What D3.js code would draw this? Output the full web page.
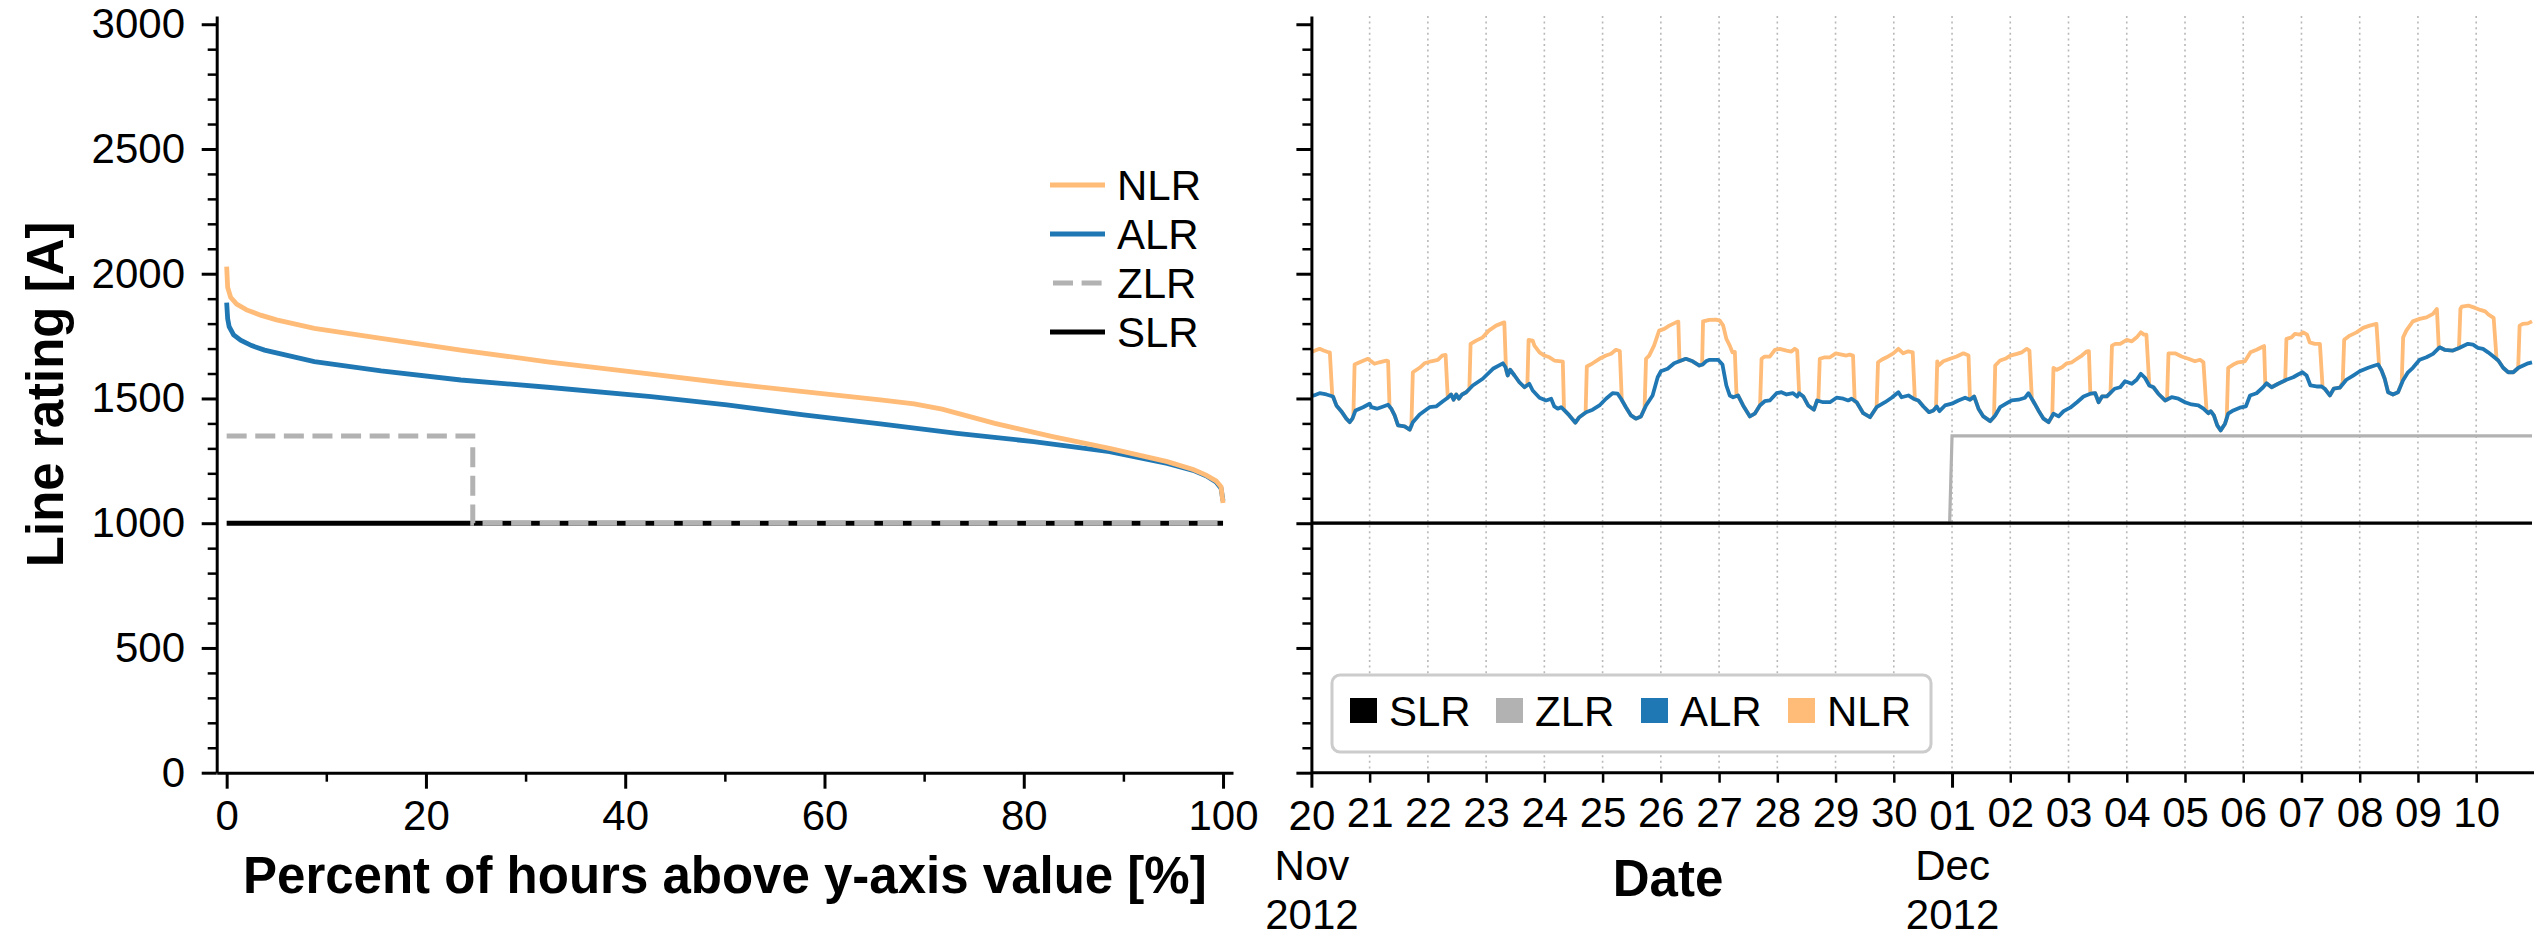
<!DOCTYPE html>
<html>
<head>
<meta charset="utf-8">
<script src="https://cdn.jsdelivr.net/npm/d3@7"></script>
<style>
  body { margin: 0; background: #fff; }
  svg text { font-family: "Liberation Sans", Arial, Helvetica, sans-serif; fill: #000; }
</style>
</head>
<body>
<svg id="chart" width="2534" height="937"></svg>
<script>
// ---------- data ----------
const ratingMajorTicks = [0, 500, 1000, 1500, 2000, 2500, 3000];
const ratingMinorTicks = d3.range(0, 3001, 100).filter(v => v % 500 !== 0);
const pctMajorTicks = [0, 20, 40, 60, 80, 100];
const pctMinorTicks = [10, 30, 50, 70, 90];

// Duration curves: [percent of hours above value, rating in A]
const nlrDuration = [[0,2028],[0.1,1945],[0.4,1905],[1,1878],[2,1855],[3.4,1834],[5,1815],[8.8,1781],
  [15.5,1741],[23.5,1694],[32.2,1647],[42.6,1598],[50.2,1561],[57.9,1527],[65.6,1494],[69,1478],
  [71.8,1457],[77.1,1400],[82.9,1347],[88.6,1300],[94.4,1247],[97,1215],[98.3,1193],[99.3,1170],
  [99.8,1146],[100,1081]];
const alrDuration = [[0,1884],[0.1,1820],[0.25,1788],[0.7,1755],[1.4,1734],[2.5,1712],[3.8,1694],
  [8.8,1648],[15.5,1611],[23.5,1574],[32.2,1545],[42.6,1507],[50.2,1474],[57.9,1434],[65.6,1398],
  [73.3,1360],[81,1327],[88.6,1287],[94.4,1240],[97,1212],[98.3,1190],[99.3,1165],[99.8,1140],[100,1090]];
const zlrDuration = [[0,1350],[24.7,1000],[100,1000]];
const slrDuration = [[0,1000],[100,1000]];

// Hourly time series from 20 Nov 2012 00:00: [hours since start, rating in A]
const seriesStart = new Date(2012, 10, 20, 0, 0, 0);
const seriesEnd = new Date(2012, 11, 10, 23, 0, 0);
const slrSeries = [[0,1000],[503,1000]];
const zlrSeries = [[0,1000],[263,1000],[264,1350],[503,1350]];
const alrSeries = [[0,1510],[1,1512],[3.4,1521],[6.2,1516],[8.9,1508],[10.3,1472],[12.3,1449],[14.4,1419],
  [15.8,1405],[16.9,1419],[18.2,1452],[21.3,1465],[24,1479],[24.7,1465],[27,1459],[28.8,1465],[31.6,1475],
  [32.9,1459],[34.3,1432],[35.7,1392],[38.4,1388],[40.5,1375],[41.8,1405],[44.6,1436],[48.7,1465],
  [51.4,1468],[54.2,1489],[56.2,1503],[57.6,1516],[58.6,1495],[59.7,1516],[60.8,1499],[62.1,1516],
  [63.8,1525],[66.5,1552],[70.6,1579],[74.8,1619],[78.9,1641],[80,1625],[80.9,1592],[81.9,1615],
  [83.7,1592],[85.7,1565],[87.8,1545],[89.8,1559],[91.2,1532],[94,1503],[96.7,1492],[98.8,1499],
  [100.1,1468],[101.5,1459],[102.9,1465],[104.3,1452],[106.3,1432],[108.8,1403],[110.4,1425],[113.2,1445],
  [115.9,1455],[118.7,1472],[121.4,1499],[124.1,1521],[126.2,1519],[127.6,1499],[129.6,1465],[131.7,1432],
  [133.7,1419],[135.8,1428],[137.9,1472],[140.6,1512],[142.7,1585],[144,1609],[146.8,1619],[149.5,1641],
  [151.6,1649],[154.3,1659],[157.1,1649],[159.9,1632],[161.2,1636],[162.6,1649],[164.1,1655],[167.6,1655],
  [169.4,1636],[171,1552],[172.4,1512],[173.8,1505],[175.8,1512],[177.9,1472],[180.7,1428],[182.7,1439],
  [184.8,1472],[186.8,1489],[188.9,1492],[191.7,1521],[193.7,1525],[195.8,1516],[198.5,1521],[200.2,1508],
  [201,1521],[202.7,1508],[204.7,1472],[207.1,1455],[208.4,1492],[210.9,1485],[213.7,1485],[216.4,1503],
  [219.2,1499],[221.2,1492],[222.6,1499],[224.7,1485],[227.4,1441],[230.2,1425],[232.9,1465],[236.4,1485],
  [239.1,1503],[241.9,1525],[243.2,1505],[246,1512],[248.1,1499],[250.1,1492],[252.2,1468],[254.5,1445],
  [256.3,1452],[257.7,1468],[258.8,1449],[261.1,1472],[263.9,1479],[266.6,1492],[269.4,1503],[271.4,1495],
  [273.1,1508],[274.9,1459],[276.9,1428],[279.7,1409],[281.8,1432],[283.8,1465],[286.6,1481],[288.6,1492],
  [291.4,1495],[294.1,1503],[295.5,1521],[297.3,1492],[299.6,1452],[301.7,1419],[303.8,1405],[305.8,1439],
  [307.9,1428],[310,1449],[312.7,1463],[315.5,1485],[318.2,1508],[321,1519],[323,1521],[324.4,1485],
  [325.8,1508],[327.8,1508],[331,1539],[333.3,1545],[335.3,1569],[338.1,1559],[340.1,1575],[341.8,1599],
  [343.5,1583],[345.3,1552],[347,1545],[349,1519],[351.8,1492],[354.5,1505],[357.3,1499],[360,1485],
  [362.7,1476],[365.5,1472],[367.6,1459],[369.6,1441],[370.6,1449],[371.9,1432],[373.3,1392],[374.7,1372],
  [376.5,1399],[377.8,1439],[379.9,1452],[382.6,1463],[385.1,1468],[386.8,1512],[389.5,1521],[392.2,1545],
  [393.6,1561],[395.7,1545],[398.4,1559],[401.8,1575],[404.6,1585],[406.6,1596],[408.4,1605],[410.1,1592],
  [411.7,1552],[414.2,1548],[416.3,1548],[417.6,1539],[419.7,1512],[421.3,1539],[423.8,1543],[426.5,1575],
  [429.3,1592],[432,1609],[435.5,1623],[438.2,1632],[439.6,1636],[441,1612],[442.3,1579],[443.7,1525],
  [445.7,1516],[447.8,1525],[449.8,1572],[451.9,1605],[453.9,1623],[456.7,1655],[459.5,1665],[462.2,1679],
  [464.9,1705],[467,1695],[470.4,1692],[473.2,1703],[476.6,1719],[478.7,1716],[480.7,1703],[482.8,1699],
  [484.9,1685],[487.1,1668],[489.1,1652],[491.1,1623],[493.2,1605],[495.3,1605],[497.4,1623],[499.4,1632],
  [501.4,1641],[503,1645]];
// NLR periods where the rating lifts above ALR (outside them NLR equals ALR)
const nlrPulses = [
  [[0,1685],[1,1690],[3.4,1699],[5,1692],[7,1685],[7.6,1685],[8.6,1510]],
  [[17.3,1430],[17.8,1636],[19.9,1645],[23.3,1659],[24.2,1652],[26,1639],[28,1645],[30.9,1652],[31.6,1650],[32.2,1467]],
  [[41.2,1390],[41.8,1605],[44.6,1623],[46.6,1641],[49.4,1649],[52.1,1655],[53.9,1672],[55.3,1675],[56.2,1503]],
  [[65.1,1540],[65.6,1719],[67.9,1732],[70.6,1745],[73.1,1772],[76.1,1792],[78.9,1803],[79.5,1805],[80.2,1615]],
  [[89,1555],[89.5,1735],[91.2,1732],[91.9,1712],[94,1685],[96,1672],[98.1,1665],[100.1,1652],[102.9,1649],[103.6,1648],[104.1,1455]],
  [[113,1444],[113.5,1628],[115.9,1641],[118.7,1659],[121.4,1672],[123.5,1679],[125.5,1695],[127.1,1690],[127.9,1495]],
  [[137.3,1462],[137.9,1659],[139.2,1672],[141.2,1712],[143.3,1772],[145.4,1779],[147.5,1792],[150.3,1805],[151.2,1808],[151.7,1649]],
  [[161,1635],[161.4,1809],[164,1815],[166.7,1816],[168.3,1812],[169.7,1792],[171,1739],[172.4,1712],[173.5,1685],[174.5,1687],[175.2,1510]],
  [[184.9,1474],[185.5,1659],[186.8,1668],[188.9,1668],[191,1695],[193,1699],[195.8,1692],[197.8,1688],[199.2,1699],[200.2,1692],[201,1521]],
  [[208.9,1490],[209.5,1659],[211.6,1665],[213.7,1665],[216.1,1681],[218.5,1676],[220.5,1672],[221.8,1676],[223.2,1672],[223.9,1488]],
  [[232.9,1465],[233.5,1645],[235,1655],[237,1665],[239.8,1681],[241.9,1699],[243.9,1681],[246,1689],[247.8,1685],[248.7,1496]],
  [[257.4,1462],[257.9,1649],[258.4,1632],[260.4,1649],[263.2,1659],[265.9,1668],[268.7,1681],[270.8,1672],[271.4,1495]],
  [[281.3,1425],[281.8,1632],[283.8,1652],[285.9,1659],[288,1672],[290.7,1679],[292.8,1685],[294.8,1699],[295.9,1692],[296.9,1498]],
  [[305.3,1430],[305.8,1623],[307.2,1615],[309.3,1625],[311.3,1641],[313.4,1645],[315.5,1659],[317.5,1672],[319.6,1689],[320.4,1690],[321,1519]],
  [[329.3,1522],[329.9,1712],[331.3,1719],[333.3,1719],[336,1735],[338.1,1729],[340.1,1745],[341.8,1765],[343.1,1756],[344.1,1756],[345.3,1552]],
  [[352.6,1495],[353.2,1681],[355.9,1681],[358.6,1668],[361.4,1659],[364.1,1649],[366.2,1655],[367.6,1645],[368.9,1447]],
  [[377.2,1420],[377.8,1623],[379.9,1636],[381.9,1645],[384.7,1649],[387,1685],[389.5,1695],[392.2,1708],[392.6,1710],[393.1,1555]],
  [[401.3,1572],[401.8,1739],[403.9,1745],[405.3,1759],[407.3,1756],[408.7,1765],[410.3,1756],[411.4,1725],[413.5,1719],[415.6,1719],[416.7,1545]],
  [[425,1565],[425.6,1735],[427.9,1752],[430.7,1765],[433.4,1783],[436.1,1792],[438.9,1799],[440,1630]],
  [[449.3,1562],[449.9,1745],[451.2,1772],[453.9,1809],[456.7,1819],[459.5,1825],[462.2,1839],[463.8,1859],[464.6,1702]],
  [[472.9,1701],[473.5,1859],[474.1,1868],[476.8,1872],[479.6,1863],[481.7,1855],[483.7,1849],[485.1,1836],[487.2,1823],[488.4,1658]],
  [[497.3,1622],[497.9,1792],[499.2,1799],[501.3,1801],[503,1809]]
];

const seriesNames = ["SLR", "ZLR", "ALR", "NLR"];
const seriesColors = { SLR: "#000000", ZLR: "#b2b2b2", ALR: "#1f77b4", NLR: "#ffbb78" };

// ---------- layout ----------
const svg = d3.select("#chart");
const plotTop = 16, plotBottom = 772.7;
const yRating = d3.scaleLinear().domain([0, 3033]).range([plotBottom, plotTop]);
const xPct = d3.scaleLinear().domain([-1, 101]).range([216.7, 1233]);
const xTime = d3.scaleTime().domain([seriesStart, seriesEnd]).range([1311.4, 2532]);
const atHour = h => new Date(seriesStart.getTime() + h * 3600e3);

const tickFont = 42, titleFont = 51;

function styleAxis(g, width) {
  g.attr("font-family", null).attr("font-size", null);
  g.select(".domain").attr("stroke", "#000").attr("stroke-width", 3);
  g.selectAll(".tick line").attr("stroke", "#000").attr("stroke-width", width);
  g.selectAll(".tick text").attr("font-size", tickFont);
}

// ---------- left panel: duration curves ----------
const left = svg.append("g");
const lineL = d3.line().x(d => xPct(d[0])).y(d => yRating(d[1]));

left.append("path").datum(slrDuration).attr("d", lineL)
  .attr("fill", "none").attr("stroke", seriesColors.SLR).attr("stroke-width", 5);
left.append("path").datum(zlrDuration).attr("d", lineL.curve(d3.curveStepAfter))
  .attr("fill", "none").attr("stroke", seriesColors.ZLR).attr("stroke-width", 5)
  .attr("stroke-dasharray", "20 8.6");
lineL.curve(d3.curveLinear);
left.append("path").datum(alrDuration).attr("d", lineL)
  .attr("fill", "none").attr("stroke", seriesColors.ALR).attr("stroke-width", 4.8);
left.append("path").datum(nlrDuration).attr("d", lineL)
  .attr("fill", "none").attr("stroke", seriesColors.NLR).attr("stroke-width", 4.8);

// y axis (major + minor)
const yAxisL = left.append("g").attr("transform", `translate(${xPct.range()[0]},0)`)
  .call(d3.axisLeft(yRating).tickValues(ratingMajorTicks).tickSize(15).tickPadding(16.7)
    .tickFormat(d3.format("d")).tickSizeOuter(0));
styleAxis(yAxisL, 3);
const yMinorL = left.append("g").attr("transform", `translate(${xPct.range()[0]},0)`)
  .call(d3.axisLeft(yRating).tickValues(ratingMinorTicks).tickSize(9).tickFormat("").tickSizeOuter(0));
styleAxis(yMinorL, 2.5);
yMinorL.select(".domain").remove();

// x axis
const xAxisL = left.append("g").attr("transform", `translate(0,${plotBottom})`)
  .call(d3.axisBottom(xPct).tickValues(pctMajorTicks).tickSize(16).tickPadding(11)
    .tickFormat(d3.format("d")).tickSizeOuter(0));
styleAxis(xAxisL, 3);
const xMinorL = left.append("g").attr("transform", `translate(0,${plotBottom})`)
  .call(d3.axisBottom(xPct).tickValues(pctMinorTicks).tickSize(9).tickFormat("").tickSizeOuter(0));
styleAxis(xMinorL, 2.5);
xMinorL.select(".domain").remove();

left.append("text").attr("transform", `translate(63,${(plotTop + plotBottom) / 2}) rotate(-90)`)
  .attr("text-anchor", "middle").attr("font-size", titleFont).attr("font-weight", "bold")
  .text("Line rating [A]");
left.append("text").attr("x", (xPct.range()[0] + xPct.range()[1]) / 2).attr("y", 893)
  .attr("text-anchor", "middle").attr("font-size", titleFont).attr("font-weight", "bold")
  .text("Percent of hours above y-axis value [%]");

// legend (line handles)
const legendL = left.append("g");
const legendLOrder = ["NLR", "ALR", "ZLR", "SLR"];
legendLOrder.forEach((name, i) => {
  const cy = 185 + i * 49;
  legendL.append("line").attr("x1", 1050).attr("x2", 1105).attr("y1", cy).attr("y2", cy)
    .attr("stroke", seriesColors[name]).attr("stroke-width", 5)
    .attr("stroke-dasharray", name === "ZLR" ? "20 8.6" : null)
    .attr("stroke-dashoffset", name === "ZLR" ? -3 : null);
  legendL.append("text").attr("x", 1117).attr("y", cy).attr("dy", "0.36em")
    .attr("font-size", tickFont).text(name);
});

// ---------- right panel: time series ----------
const right = svg.append("g");
const dayTicks = d3.timeDay.range(seriesStart, seriesEnd);
const monthStarts = dayTicks.filter(d => d.getTime() === seriesStart.getTime() || d.getDate() === 1);
const dayMinor = dayTicks.filter(d => !monthStarts.some(m => m.getTime() === d.getTime()));

// dotted day grid
right.append("g").selectAll("line").data(dayTicks.slice(1)).join("line")
  .attr("x1", d => xTime(d)).attr("x2", d => xTime(d))
  .attr("y1", plotTop).attr("y2", plotBottom)
  .attr("stroke", "#b8b8b8").attr("stroke-width", 1.6).attr("stroke-dasharray", "2 3.6");

const lineR = d3.line().x(d => xTime(atHour(d[0]))).y(d => yRating(d[1]));

// complete NLR trace: pulses plus ALR where no pulse is active
const nlrSeries = (() => {
  const pts = [];
  nlrPulses.forEach(p => pts.push(...p));
  alrSeries.forEach(a => {
    const inside = nlrPulses.some(p => a[0] >= p[0][0] && a[0] <= p[p.length - 1][0]);
    if (!inside) pts.push(a);
  });
  return pts.sort((a, b) => a[0] - b[0]);
})();

right.append("path").datum(zlrSeries).attr("d", lineR)
  .attr("fill", "none").attr("stroke", seriesColors.ZLR).attr("stroke-width", 3.2);
right.append("path").datum(slrSeries).attr("d", lineR)
  .attr("fill", "none").attr("stroke", seriesColors.SLR).attr("stroke-width", 3.2);
right.append("path").datum(nlrSeries).attr("d", lineR)
  .attr("fill", "none").attr("stroke", seriesColors.NLR).attr("stroke-width", 3.8)
  .attr("stroke-linejoin", "round");
right.append("path").datum(alrSeries).attr("d", lineR)
  .attr("fill", "none").attr("stroke", seriesColors.ALR).attr("stroke-width", 3.8)
  .attr("stroke-linejoin", "round");

// y axis (ticks only, shared scale)
const yAxisR = right.append("g").attr("transform", `translate(${xTime.range()[0]},0)`)
  .call(d3.axisLeft(yRating).tickValues(ratingMajorTicks).tickSize(15).tickFormat("").tickSizeOuter(0));
styleAxis(yAxisR, 3);
const yMinorR = right.append("g").attr("transform", `translate(${xTime.range()[0]},0)`)
  .call(d3.axisLeft(yRating).tickValues(ratingMinorTicks).tickSize(9).tickFormat("").tickSizeOuter(0));
styleAxis(yMinorR, 2.5);
yMinorR.select(".domain").remove();

// x axis: day numbers, month/year under month starts
const xMinorR = right.append("g").attr("transform", `translate(0,${plotBottom})`)
  .call(d3.axisBottom(xTime).tickValues(dayMinor).tickSize(10).tickPadding(14)
    .tickFormat(d3.timeFormat("%d")).tickSizeOuter(0));
styleAxis(xMinorR, 2.5);
xMinorR.select(".domain").attr("d", `M${xTime.range()[0]},0H2534`);
const xMajorR = right.append("g").attr("transform", `translate(0,${plotBottom})`)
  .call(d3.axisBottom(xTime).tickValues(monthStarts).tickSize(15).tickPadding(12)
    .tickFormat(d3.timeFormat("%d")).tickSizeOuter(0));
styleAxis(xMajorR, 3);
xMajorR.select(".domain").remove();
xMajorR.selectAll(".tick").each(function (d) {
  const t = d3.select(this);
  t.append("text").attr("y", 107).attr("font-size", tickFont).attr("text-anchor", "middle")
    .attr("fill", "#000").text(d3.timeFormat("%b")(d));
  t.append("text").attr("y", 156).attr("font-size", tickFont).attr("text-anchor", "middle")
    .attr("fill", "#000").text(d3.timeFormat("%Y")(d));
});

right.append("text").attr("x", 1668).attr("y", 896)
  .attr("text-anchor", "middle").attr("font-size", titleFont).attr("font-weight", "bold")
  .text("Date");

// legend (patch handles in a framed box)
const legendR = right.append("g");
legendR.append("rect").attr("x", 1332).attr("y", 675).attr("width", 599).attr("height", 77)
  .attr("rx", 8).attr("fill", "#fff").attr("stroke", "#cccccc").attr("stroke-width", 3);
const legendRX = [1350, 1496, 1641, 1788];
seriesNames.forEach((name, i) => {
  legendR.append("rect").attr("x", legendRX[i]).attr("y", 698).attr("width", 27).attr("height", 25)
    .attr("fill", seriesColors[name]);
  legendR.append("text").attr("x", legendRX[i] + 39).attr("y", 711).attr("dy", "0.36em")
    .attr("font-size", tickFont).text(name);
});
</script>
</body>
</html>
